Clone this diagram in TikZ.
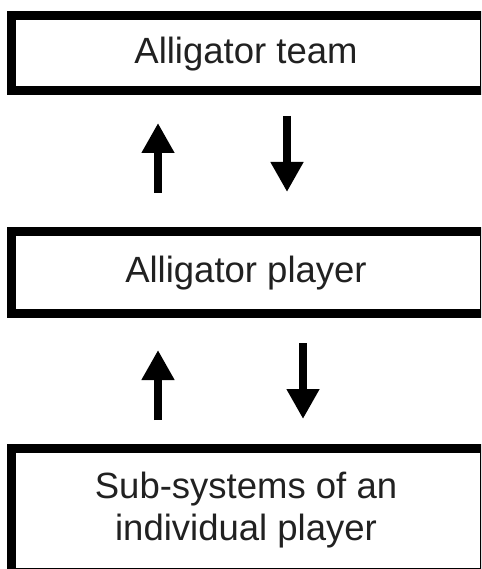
\documentclass[tikz,border=0pt]{standalone}
\usepackage{fontspec}
\setmainfont{Liberation Sans}
\usetikzlibrary{arrows.meta}
\tikzset{
  box/.style={draw=black, line width=9pt, fill=none, rectangle, inner sep=0pt},
  lbl/.style={font=\fontsize{36.5}{42}\selectfont, anchor=base, inner sep=0pt, align=center, text=black!87},
  arr/.style={line width=8pt, -{Triangle[width=31pt,length=30pt]}}
}
\begin{document}
\begin{tikzpicture}[x=1pt,y=-1pt]
\useasboundingbox (0,0) rectangle (481,569);
\fill[white] (0,0) rectangle (481,569);
\clip (0,0) rectangle (481,569);
% boxes
\node[box, minimum width=473pt, minimum height=75pt] (b1) at (248,53) {};
\node[box, minimum width=473pt, minimum height=82pt] (b2) at (248,272.5) {};
\node[box, minimum width=473pt, minimum height=124pt] (b3) at (248,510.5) {};
% labels
\node[lbl] (t1) at (246,64) {Alligator team};
\node[lbl] (t2) at (246,282) {Alligator player};
\node[lbl] (t3) at (246,540) {Sub-systems of an\\individual player};
% arrow endpoints
\coordinate (u1s) at (158,193); \coordinate (u1e) at (158,123);
\coordinate (d1s) at (287,116); \coordinate (d1e) at (287,192);
\coordinate (u2s) at (158,420); \coordinate (u2e) at (158,350);
\coordinate (d2s) at (303,343); \coordinate (d2e) at (303,419);
\draw[arr] (u1s) -- (u1e);
\draw[arr] (d1s) -- (d1e);
\draw[arr] (u2s) -- (u2e);
\draw[arr] (d2s) -- (d2e);
\end{tikzpicture}
\end{document}
